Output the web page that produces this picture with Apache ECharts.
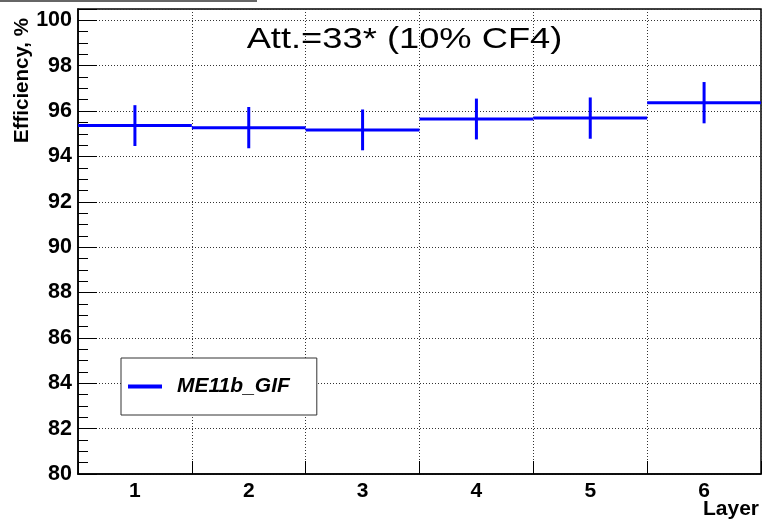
<!DOCTYPE html>
<html>
<head>
<meta charset="utf-8">
<script src="https://cdn.jsdelivr.net/npm/echarts@6/dist/echarts.min.js"></script>
<style>
  html, body { margin: 0; padding: 0; background: #fff; }
  #chart { width: 763px; height: 527px; }
</style>
</head>
<body>
<div id="chart"></div>
<script>
// Layer efficiencies for ME11b_GIF
const layers = ['1', '2', '3', '4', '5', '6'];
const efficiency = [95.36, 95.27, 95.17, 95.65, 95.69, 96.37];
const errors = [0.9, 0.91, 0.9, 0.9, 0.91, 0.91];
const yTicks = [80, 82, 84, 86, 88, 90, 92, 94, 96, 98, 100];

const FONT = '"Liberation Sans", Arial, Helvetica, sans-serif';
const BLUE = '#0000ff';

const chart = echarts.init(document.getElementById('chart'), null, { renderer: 'canvas' });

const points = layers.map((l, i) => [i, efficiency[i], errors[i]]);

// Histogram-style marker: bin-wide level line plus vertical error bar
function renderBin(params, api) {
  const idx = api.value(0);
  const v = api.value(1);
  const e = api.value(2);
  const c = api.coord([idx, v]);
  const top = api.coord([idx, v + e]);
  const bot = api.coord([idx, v - e]);
  const bw = api.size([1, 0])[0];
  return {
    type: 'group',
    children: [
      { type: 'line', shape: { x1: c[0] - bw / 2, y1: c[1], x2: c[0] + bw / 2, y2: c[1] },
        style: { stroke: BLUE, lineWidth: 3 } },
      { type: 'line', shape: { x1: c[0], y1: top[1], x2: c[0], y2: bot[1] },
        style: { stroke: BLUE, lineWidth: 3 } }
    ]
  };
}

const gridLine = { show: true, lineStyle: { color: '#333', width: 1, type: [1, 2] } };

chart.setOption({
  animation: false,
  backgroundColor: '#ffffff',
  grid: {
    left: 78, right: 2, top: 9, bottom: 53,
    show: true, borderColor: '#000', borderWidth: 1.5, backgroundColor: 'transparent'
  },
  xAxis: {
    type: 'category',
    data: layers,
    boundaryGap: true,
    axisLine: { show: true, lineStyle: { color: '#000', width: 1.5 } },
    axisTick: { show: true, inside: true, length: 13, alignWithLabel: false, interval: 0,
                lineStyle: { color: '#000', width: 1 } },
    axisLabel: { margin: 7, fontSize: 21, fontWeight: 'bold', color: '#000', fontFamily: FONT, interval: 0 },
    splitLine: Object.assign({ interval: 0 }, gridLine)
  },
  yAxis: [
    {
      type: 'value',
      min: 80, max: 100.5, interval: 2,
      axisLine: { show: true, lineStyle: { color: '#000', width: 1.5 } },
      axisTick: { show: true, inside: true, length: 19, lineStyle: { color: '#000', width: 1 } },
      axisLabel: {
        margin: 6, fontSize: 21.5, fontWeight: 'bold', color: '#000', fontFamily: FONT,
        formatter: v => (yTicks.indexOf(v) >= 0 ? String(v) : '')
      },
      splitLine: gridLine
    },
    {
      // minor ticks every 0.5
      type: 'value',
      position: 'left',
      min: 80, max: 100.5, interval: 0.5,
      axisLine: { show: false },
      axisTick: { show: true, inside: true, length: 10, lineStyle: { color: '#000', width: 1 } },
      axisLabel: { show: false },
      splitLine: { show: false }
    }
  ],
  legend: {
    left: 121, top: 358,
    orient: 'vertical',
    padding: [18, 27, 18, 7],
    borderColor: '#333', borderWidth: 1,
    backgroundColor: '#fff',
    icon: 'rect',
    itemWidth: 34, itemHeight: 4,
    textStyle: { fontSize: 21, fontWeight: 'bold', fontStyle: 'italic', color: '#000',
                 fontFamily: FONT, padding: [0, 0, 0, 10] },
    data: ['ME11b_GIF']
  },
  series: [
    {
      name: 'ME11b_GIF',
      type: 'custom',
      renderItem: renderBin,
      itemStyle: { color: BLUE },
      encode: { x: 0, y: 1 },
      data: points,
      z: 5
    }
  ],
  graphic: [
    { type: 'line', shape: { x1: 0, y1: 1, x2: 257, y2: 1 },
      style: { stroke: '#333', lineWidth: 1.5 }, silent: true },
    { type: 'text', x: 404.5, y: 40, scaleX: 1.21, z: 10,
      style: { text: 'Att.=33* (10% CF4)', fontSize: 30, fontFamily: FONT, fill: '#000',
               align: 'center', verticalAlign: 'middle' } },
    { type: 'text', x: 22, y: 143, rotation: Math.PI / 2, z: 10,
      style: { text: 'Efficiency, %', fontSize: 20.5, fontWeight: 'bold', fontFamily: FONT, fill: '#000',
               align: 'left', verticalAlign: 'middle' } },
    { type: 'text', x: 759, y: 509, z: 10,
      style: { text: 'Layer', fontSize: 21, fontWeight: 'bold', fontFamily: FONT, fill: '#000',
               align: 'right', verticalAlign: 'middle' } }
  ]
});
</script>
</body>
</html>
